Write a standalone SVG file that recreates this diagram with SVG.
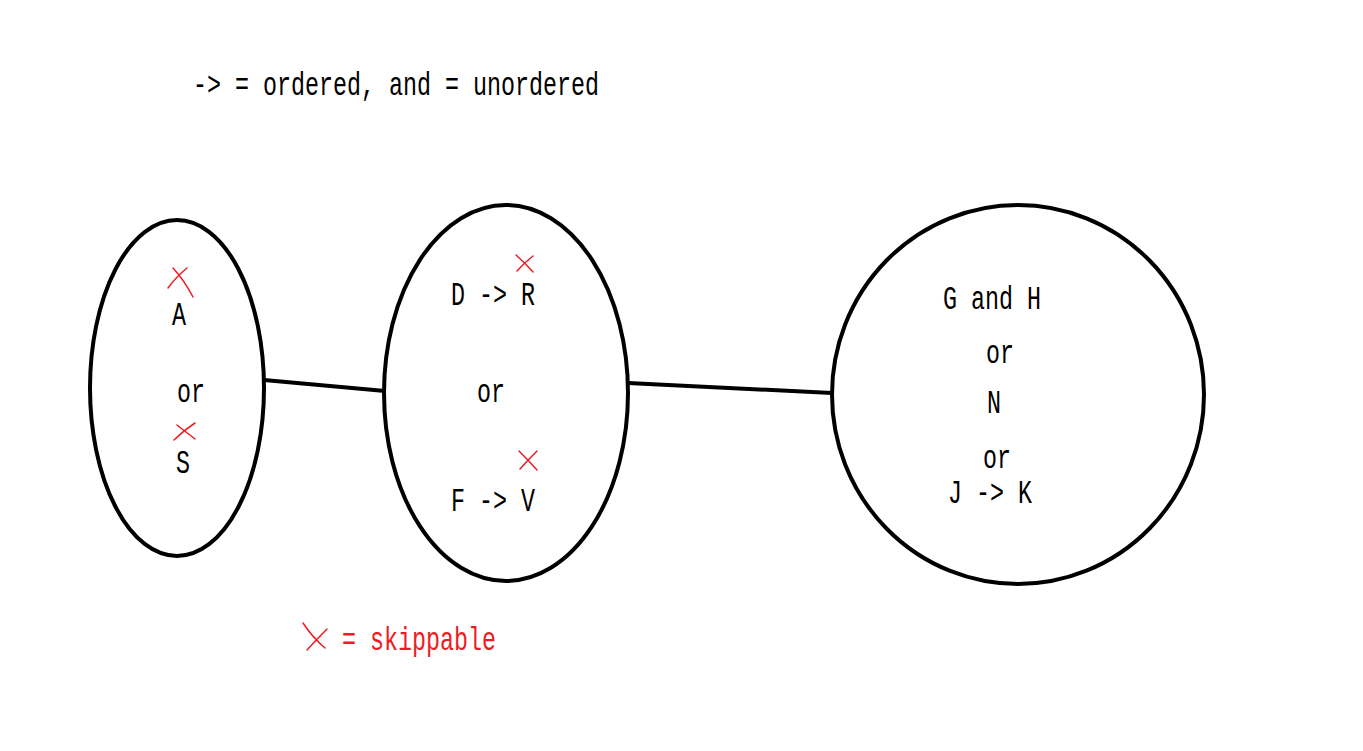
<svg xmlns="http://www.w3.org/2000/svg" width="1363" height="751" viewBox="0 0 1363 751">
<style>
.shape{fill:none;stroke:#000;stroke-width:4}
.conn{stroke:#000;stroke-width:4;fill:none}
.t{font-family:"Liberation Mono",monospace;font-size:33px;fill:#000}
.r{fill:#ed1c24}
.x{fill:none;stroke:#ed1c24;stroke-width:1.5;stroke-linecap:round}
</style>
<rect width="1363" height="751" fill="#fff"/>
<text class="t" x="193" y="95" textLength="406" lengthAdjust="spacingAndGlyphs">-&gt; = ordered, and = unordered</text>
<g id="connectors">
<line class="conn" x1="264" y1="380" x2="385" y2="391"/>
<line class="conn" x1="628" y1="383" x2="832" y2="393"/>
</g>
<g id="node1">
<ellipse class="shape" cx="177" cy="388" rx="87" ry="168"/>
<path class="x" d="M168,288 Q176,277 187,268 M173,268 Q184,280 193,297"/>
<text class="t" x="172" y="325" textLength="14" lengthAdjust="spacingAndGlyphs">A</text>
<text class="t" x="177" y="402" textLength="28" lengthAdjust="spacingAndGlyphs">or</text>
<path class="x" d="M174,440 Q184,430 195,423 M177,425 Q186,432 195,439"/>
<text class="t" x="176" y="473" textLength="14" lengthAdjust="spacingAndGlyphs">S</text>
</g>
<g id="node2">
<ellipse class="shape" cx="506" cy="393" rx="122" ry="188"/>
<path class="x" d="M516,255 Q525,263 533,272 M533,256 Q524,263 517,271"/>
<text class="t" x="451" y="305" textLength="84" lengthAdjust="spacingAndGlyphs">D -&gt; R</text>
<text class="t" x="477" y="402" textLength="28" lengthAdjust="spacingAndGlyphs">or</text>
<path class="x" d="M519,451 Q528,460 537,470 M537,451 Q528,460 520,469"/>
<text class="t" x="451" y="511" textLength="84" lengthAdjust="spacingAndGlyphs">F -&gt; V</text>
</g>
<g id="node3">
<ellipse class="shape" cx="1018" cy="394.5" rx="186" ry="189.5"/>
<text class="t" x="943" y="309" textLength="98" lengthAdjust="spacingAndGlyphs">G and H</text>
<text class="t" x="986" y="363" textLength="28" lengthAdjust="spacingAndGlyphs">or</text>
<text class="t" x="987" y="413" textLength="14" lengthAdjust="spacingAndGlyphs">N</text>
<text class="t" x="983" y="468" textLength="28" lengthAdjust="spacingAndGlyphs">or</text>
<text class="t" x="948" y="503" textLength="84" lengthAdjust="spacingAndGlyphs">J -&gt; K</text>
</g>
<g id="legend">
<path class="x" d="M303,623 Q313,638 325,648 M327,629 Q316,640 307,650"/>
<text class="t r" x="342" y="650" textLength="154" lengthAdjust="spacingAndGlyphs">= skippable</text>
</g>
</svg>
